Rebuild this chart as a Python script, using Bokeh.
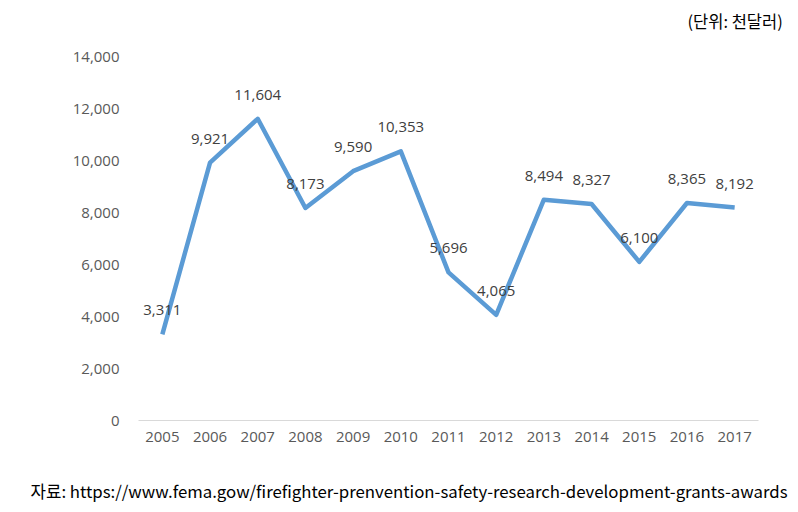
from bokeh.plotting import figure
from bokeh.models import ColumnDataSource, Title, NumeralTickFormatter, FixedTicker
from bokeh.core.properties import value
from bokeh.embed import file_html
from bokeh.resources import INLINE

years = ["2005", "2006", "2007", "2008", "2009", "2010", "2011", "2012", "2013", "2014", "2015", "2016", "2017"]
amounts = [3311, 9921, 11604, 8173, 9590, 10353, 5696, 4065, 8494, 8327, 6100, 8365, 8192]
labels = [f"{v:,}" for v in amounts]
y_ticks = [0, 2000, 4000, 6000, 8000, 10000, 12000, 14000]
unit_text = "(단위:  천달러)"
source_text = "자료:  https://www.fema.gow/firefighter-prenvention-safety-research-development-grants-awards"

src = ColumnDataSource(dict(x=years, y=amounts, t=labels))

p = figure(width=790, height=512, x_range=years, y_range=(0, 14000),
           output_backend="svg", toolbar_location=None,
           min_border_left=138, min_border_right=32, min_border_top=56, min_border_bottom=92)
p.outline_line_color = None
p.xgrid.grid_line_color = None
p.ygrid.grid_line_color = None

p.line("x", "y", source=src, line_color="#5B9BD5", line_width=4.5, line_join="round")
p.text("x", "y", text="t", source=src, text_align="center", text_baseline="middle",
       y_offset=-24, text_font=value("Open Sans"), text_font_size="15px", text_color="#404040")

p.yaxis.ticker = FixedTicker(ticks=y_ticks)
p.yaxis.formatter = NumeralTickFormatter(format="0,0")
p.yaxis.axis_line_color = None
p.yaxis.major_tick_line_color = None
p.yaxis.minor_tick_line_color = None
p.yaxis.major_tick_out = 0
p.yaxis.major_tick_in = 0
p.yaxis.major_label_standoff = 19
p.yaxis.major_label_text_font = "Open Sans"
p.yaxis.major_label_text_font_size = "15px"
p.yaxis.major_label_text_color = "#595959"

p.xaxis.axis_line_color = "#D9D9D9"
p.xaxis.axis_line_width = 1
p.xaxis.major_tick_line_color = None
p.xaxis.minor_tick_line_color = None
p.xaxis.major_tick_out = 0
p.xaxis.major_tick_in = 0
p.xaxis.major_label_standoff = 11
p.xaxis.major_label_text_font = "Open Sans"
p.xaxis.major_label_text_font_size = "15px"
p.xaxis.major_label_text_color = "#595959"

# spacers (blank titles) push the unit note up and the source note down
p.add_layout(Title(text=" ", standoff=9, text_font_size="10px"), "above")
p.add_layout(Title(text=unit_text, align="right", offset=-28, standoff=0, vertical_align="top",
                   text_font="Noto Sans CJK KR", text_font_size="16.5px",
                   text_font_style="normal", text_color="#000000"), "above")
p.add_layout(Title(text=" ", standoff=21, text_font_size="10px"), "below")
p.add_layout(Title(text=source_text, align="left", offset=-108, standoff=0, vertical_align="top",
                   text_font="Noto Sans CJK KR", text_font_size="16.8px",
                   text_font_style="normal", text_color="#000000"), "below")

open("out.html", "w").write(file_html(p, INLINE))
